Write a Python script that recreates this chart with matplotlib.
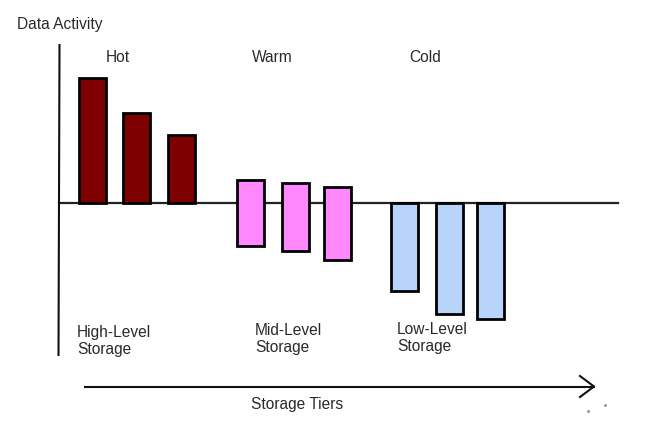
import numpy as np
import matplotlib.pyplot as plt

plt.rcParams['font.family'] = ['Liberation Sans', 'DejaVu Sans']

# Data activity per tier (arbitrary units, 0 = baseline)
hot_top = [12.5, 9.0, 6.8]
warm_top = [2.3, 2.0, 1.6]
warm_bottom = [-4.3, -4.8, -5.7]
cold_bottom = [-8.8, -11.1, -11.6]
tier_names = ['Hot', 'Warm', 'Cold']
tier_labels = ['High-Level\nStorage', 'Mid-Level\nStorage', 'Low-Level\nStorage']

# figure is laid out in pixel-like units on x, activity units on y
fw, fh = 6.48, 4.38
fig = plt.figure(figsize=(fw, fh), dpi=100)
ax = fig.add_axes([0, 0, 1, 1])
ax.set_xlim(0, 648)
ax.set_ylim(-23.5, 20.3)
ax.axis('off')

txtcolor = '#2a2a2a'
fsize = 11.2
bw = 27
lw = 2.0

# x positions of the bars in each group
hot_x = [92.5, 136.5, 181]
warm_x = [250.5, 295.5, 337.5]
cold_x = [404, 449.5, 490]

# axes lines
ax.plot([59.5, 58.5], [15.8, -15.2], color='#111111', lw=1.5)
ax.plot([59, 618], [0, 0], color='#222222', lw=1.6, zorder=1)

ax.bar(hot_x, hot_top, width=bw, bottom=0, color='#7f0000',
       edgecolor='black', linewidth=lw, zorder=3)
ax.bar(warm_x, np.array(warm_top) - np.array(warm_bottom), width=bw,
       bottom=warm_bottom, color='#ff88ff', edgecolor='black',
       linewidth=lw, zorder=3)
ax.bar(cold_x, cold_bottom, width=bw, bottom=0, color='#b8d4fb',
       edgecolor='black', linewidth=lw, zorder=3)

# tier titles and storage labels
name_x = [118, 272, 425]
for i, name in enumerate(tier_names):
    ax.text(name_x[i], 14.6, name, ha='center', va='center',
            fontsize=fsize, color=txtcolor)
label_x = [77, 255, 397]
label_y = [-13.8, -13.6, -13.5]
for i, lab in enumerate(tier_labels):
    ax.text(label_x[i], label_y[i], lab, ha='left', va='center',
            fontsize=fsize, color=txtcolor, linespacing=1.2)

ax.text(17, 17.9, 'Data Activity', ha='left', va='center',
        fontsize=fsize, color=txtcolor)

# storage tier arrow
ax.plot([85, 594], [-18.35, -18.35], color='#111111', lw=1.5)
ax.plot([580, 594, 580], [-17.3, -18.35, -19.4], color='#111111', lw=1.5)
ax.text(297, -20.1, 'Storage Tiers', ha='center', va='center',
        fontsize=fsize, color=txtcolor)
ax.plot([588, 605], [-20.8, -20.2], 's', color='#999999', markersize=1.0)

plt.savefig('out.png', dpi=100)
